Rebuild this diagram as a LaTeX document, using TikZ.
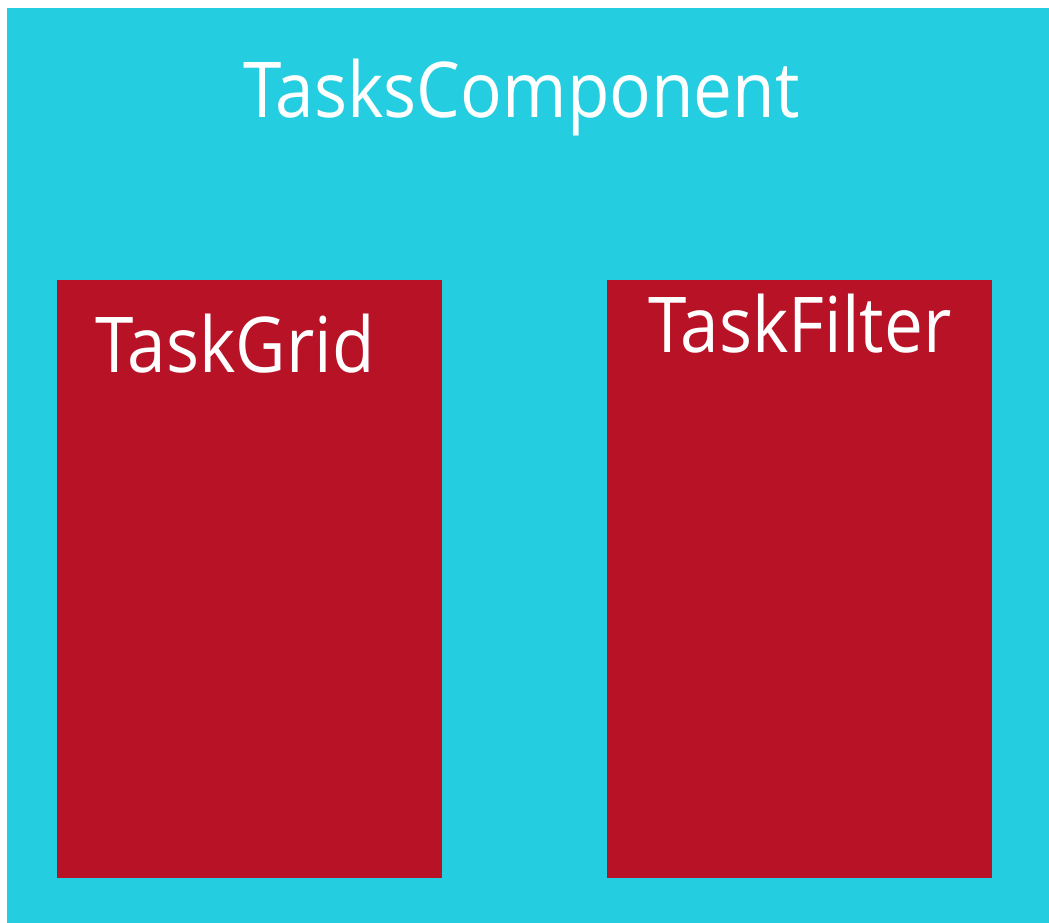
\documentclass[tikz,border=0pt]{standalone}
\usepackage{fontspec}
\setmainfont{Open Sans}
\definecolor{panelcyan}{RGB}{36,205,224}
\definecolor{boxred}{RGB}{184,18,38}
\begin{document}
\begin{tikzpicture}[x=1pt,y=-1pt,
  panel/.style={fill=panelcyan,draw=none,inner sep=0pt,anchor=north west},
  childbox/.style={fill=boxred,draw=none,inner sep=0pt,anchor=north west,
    minimum width=385pt,minimum height=598pt},
  caption/.style={text=white,inner sep=0pt,anchor=base west,xscale=0.9,
    font=\fontsize{77}{80}\selectfont}]
  \useasboundingbox[fill=white] (0,0) rectangle (1049,923);
  \node[panel,minimum width=1042pt,minimum height=915pt] (tasks) at (7,8) {};
  \node[childbox] (grid) at (57,280) {};
  \node[childbox] (filter) at (607,280) {};
  \node[caption] (tasksLabel) at (243,118) {TasksComponent};
  \node[caption] (gridLabel) at (95,372) {TaskGrid};
  \node[caption] (filterLabel) at (648,352) {TaskFilter};
\end{tikzpicture}
\end{document}
